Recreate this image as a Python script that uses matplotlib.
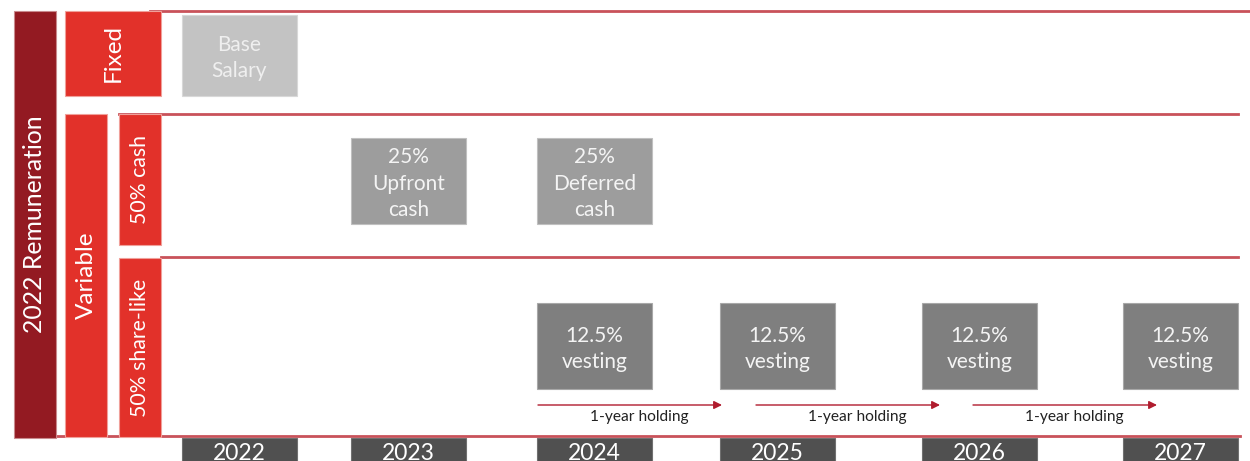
import matplotlib.pyplot as plt
from matplotlib.patches import Rectangle

plt.rcParams['font.family'] = ['Lato', 'DejaVu Sans']

# --- content ---
years = ['2022', '2023', '2024', '2025', '2026', '2027']
fixed_items = ['Base\nSalary']                       # paid in 2022
cash_items = ['25%\nUpfront\ncash', '25%\nDeferred\ncash']  # 2023, 2024
vesting_items = ['12.5%\nvesting'] * 4               # 2024 .. 2027
holding_label = '1-year holding'
n_holdings = 3

title_label = '2022 Remuneration'
group_labels = ['Fixed', 'Variable']
sub_labels = ['50% cash', '50% share-like']

# --- layout (pixels) ---
W, H = 1250, 461
col_x = [182, 351, 537, 720, 922, 1123]
box_w = 115
fixed_col, cash_cols, vest_cols = [0], [1, 2], [2, 3, 4, 5]

c_dark = '#931a22'
c_red = '#e2312a'
c_line = '#c9525a'

fig = plt.figure(figsize=(12.5, 4.61), dpi=100)
ax = fig.add_axes([0, 0, 1, 1])
ax.set_xlim(0, W)
ax.set_ylim(H, 0)
ax.axis('off')


def box(x, y, w, h, fc, ec, text=None, fs=15, tc='white', rot=0, ls=1.42, dy=0):
    ax.add_patch(Rectangle((x, y), w, h, facecolor=fc, edgecolor=ec, lw=0.8, zorder=3))
    if text:
        ax.text(x + w / 2, y + h / 2 + dy, text, ha='center', va='center', fontsize=fs,
                color=tc, rotation=rot, linespacing=ls, zorder=4)


# horizontal separators
ax.plot([150, W], [11, 11], color=c_line, lw=2, zorder=1)
ax.plot([119, 1238], [114, 114], color=c_line, lw=2, zorder=1)
ax.plot([161, 1238], [257, 257], color=c_line, lw=2, zorder=1)
ax.plot([56, 1240], [435.5, 435.5], color=c_line, lw=2, zorder=1)

# left hierarchy
box(14, 11, 42, 427, c_dark, '#c98a8e', title_label, fs=17.8, rot=90)
box(65, 11, 96, 85, c_red, '#f0a09a', group_labels[0], fs=17.5, rot=90)
box(65, 114, 42, 323, c_red, '#f0a09a', group_labels[1], fs=17.5, rot=90)
box(119, 114, 42, 131, c_red, '#f0a09a', sub_labels[0], fs=15.3, rot=90)
box(119, 258, 42, 179, c_red, '#f0a09a', sub_labels[1], fs=15.3, rot=90)

# rows of payments
for i, lab in zip(fixed_col, fixed_items):
    box(col_x[i], 15, box_w, 81, '#c3c3c3', '#d8d8d8', lab, tc='#efefef', dy=2.5)
for i, lab in zip(cash_cols, cash_items):
    box(col_x[i], 138, box_w, 86, '#9d9d9d', '#c0c0c0', lab, tc='#f4f4f4', dy=2.5)
for i, lab in zip(vest_cols, vesting_items):
    box(col_x[i], 303, box_w, 86, '#7f7f7f', '#a8a8a8', lab, tc='#f4f4f4', dy=3)

# holding arrows
arrow_x = [538, 756, 973]
for k in range(n_holdings):
    x0 = arrow_x[k]
    ax.annotate('', xy=(x0 + 184, 405), xytext=(x0, 405),
                arrowprops=dict(arrowstyle='-|>', color='#b01c2e', lw=1,
                                mutation_scale=12, shrinkA=0, shrinkB=0))
    ax.text(x0 + 101, 417, holding_label, ha='center', va='center',
            fontsize=11.2, color='#222222')

# year bar
for x, yr in zip(col_x, years):
    ax.add_patch(Rectangle((x, 438), box_w, 40, facecolor='#505050',
                           edgecolor='#707070', lw=0.8, zorder=3))
    ax.text(x + box_w / 2, 459.5, yr, ha='center', va='baseline', fontsize=16.5,
            color='white', zorder=4)

fig.savefig('out.png', dpi=100)
